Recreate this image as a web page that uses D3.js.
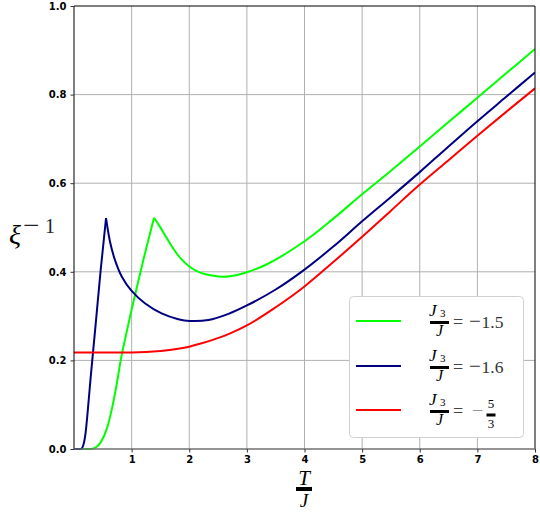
<!DOCTYPE html>
<html>
<head>
<meta charset="utf-8">
<script src="https://cdn.jsdelivr.net/npm/d3@7"></script>
<style>
  html, body { margin: 0; padding: 0; background: #fff; }
  svg { display: block; }
</style>
</head>
<body>
<svg id="chart" width="540" height="514"></svg>
<script>
// ---------------- data ----------------
const xTicks = [1, 2, 3, 4, 5, 6, 7, 8];
const yTicks = [0.0, 0.2, 0.4, 0.6, 0.8, 1.0];
const yTickLabels = ["0.0", "0.2", "0.4", "0.6", "0.8", "1.0"];

// J3/J = -1.5 (green): rising branch up to the cusp, then decaying/rising branch
const greenRiseT = [0, 0.2, 0.29, 0.37, 0.463, 0.58, 0.665, 0.75, 0.81, 0.9, 1.0, 1.1, 1.2, 1.3, 1.389];
const greenRiseY = [0, 0, 0, 0.003, 0.015, 0.05, 0.095, 0.153, 0.2, 0.256, 0.315, 0.37, 0.425, 0.477, 0.522];
const greenFallT = [1.389, 1.49, 1.61, 1.72, 1.84, 2.0, 2.19, 2.42, 2.6, 2.83, 3.0, 3.35, 4.0, 4.5, 5.0, 5.5, 6.0, 6.5, 7.0, 7.5, 8.0];
const greenFallY = [0.522, 0.502, 0.476, 0.453, 0.432, 0.412, 0.398, 0.391, 0.389, 0.393, 0.399, 0.417, 0.469, 0.52, 0.575, 0.628, 0.683, 0.738, 0.793, 0.848, 0.903];

// J3/J = -1.6 (navy)
const blueRiseT = [0, 0.08, 0.12, 0.16, 0.2, 0.24, 0.29, 0.33, 0.377, 0.463, 0.556];
const blueRiseY = [0, 0, 0, 0.008, 0.035, 0.088, 0.163, 0.218, 0.283, 0.404, 0.521];
const blueFallT = [0.556, 0.625, 0.71, 0.83, 1.0, 1.23, 1.52, 1.81, 2.01, 2.33, 2.68, 3.0, 3.5, 4.0, 4.5, 5.0, 5.5, 6.0, 6.5, 7.0, 7.5, 8.0];
const blueFallY = [0.521, 0.468, 0.427, 0.389, 0.357, 0.329, 0.306, 0.293, 0.289, 0.291, 0.305, 0.324, 0.36, 0.405, 0.457, 0.514, 0.569, 0.625, 0.683, 0.740, 0.795, 0.850];

// J3/J = -5/3 (red)
const redT = [0, 0.5, 1.0, 1.5, 1.75, 2.0, 2.2, 2.42, 2.71, 3.0, 3.5, 4.0, 4.5, 5.0, 5.5, 6.0, 6.5, 7.0, 7.5, 8.0];
const redY = [0.218, 0.218, 0.218, 0.221, 0.225, 0.231, 0.238, 0.247, 0.261, 0.279, 0.32, 0.367, 0.422, 0.479, 0.538, 0.597, 0.652, 0.707, 0.761, 0.814];

const seriesValues = ["1.5", "1.6", "5/3"];
const seriesColors = ["#00ff00", "#000080", "#ff0000"];

// --------------- chart ---------------
const svg = d3.select("#chart");
const x = d3.scaleLinear().domain([0, 8]).range([74, 535]);
const y = d3.scaleLinear().domain([0, 1]).range([449, 6]);

const zip = (T, Y) => T.map((t, j) => [t, Y[j]]);
const segments = [
  { color: seriesColors[0], pts: zip(greenRiseT, greenRiseY), curve: d3.curveMonotoneX },
  { color: seriesColors[0], pts: zip(greenFallT, greenFallY), curve: d3.curveCatmullRom.alpha(0.5) },
  { color: seriesColors[1], pts: zip(blueRiseT, blueRiseY), curve: d3.curveMonotoneX },
  { color: seriesColors[1], pts: zip(blueFallT, blueFallY), curve: d3.curveCatmullRom.alpha(0.5) },
  { color: seriesColors[2], pts: zip(redT, redY), curve: d3.curveMonotoneX }
];

// grid
const grid = svg.append("g");
grid.selectAll("line.vx").data(xTicks.filter(d => d < 8)).join("line")
  .attr("x1", d => x(d)).attr("x2", d => x(d))
  .attr("y1", y(0)).attr("y2", y(1))
  .attr("stroke", "#b0b0b0").attr("stroke-width", 1);
grid.selectAll("line.hy").data(yTicks.filter(d => d > 0 && d < 1)).join("line")
  .attr("x1", x(0)).attr("x2", x(8))
  .attr("y1", d => y(d)).attr("y2", d => y(d))
  .attr("stroke", "#b0b0b0").attr("stroke-width", 1);

// curves
svg.append("defs").append("clipPath").attr("id", "clip")
  .append("rect").attr("x", x(0)).attr("y", y(1)).attr("width", x(8) - x(0)).attr("height", y(0) - y(1) + 1);
svg.append("g").attr("clip-path", "url(#clip)")
  .selectAll("path").data(segments).join("path")
  .attr("d", d => d3.line().x(p => x(p[0])).y(p => y(p[1])).curve(d.curve)(d.pts))
  .attr("fill", "none")
  .attr("stroke", d => d.color)
  .attr("stroke-width", 2)
  .attr("stroke-linejoin", "miter")
  .attr("stroke-linecap", "butt");

// spines
svg.append("line").attr("x1", x(0)).attr("x2", x(0)).attr("y1", y(0)).attr("y2", y(1)).attr("stroke", "#000").attr("stroke-width", 1);
svg.append("line").attr("x1", x(8)).attr("x2", x(8)).attr("y1", y(0)).attr("y2", y(1)).attr("stroke", "#000").attr("stroke-width", 1);
svg.append("line").attr("x1", x(0)).attr("x2", x(8)).attr("y1", y(1)).attr("y2", y(1)).attr("stroke", "#000").attr("stroke-width", 1);
svg.append("line").attr("x1", x(0)).attr("x2", x(8)).attr("y1", y(0)).attr("y2", y(0)).attr("stroke", "#707070").attr("stroke-width", 1.5);

// axes
const xAxis = d3.axisBottom(x).tickValues(xTicks).tickSize(3.5).tickPadding(3).tickFormat(d3.format("d"));
const gx = svg.append("g").attr("transform", `translate(0,${y(0)})`).call(xAxis);
gx.select(".domain").remove();
gx.selectAll(".tick line").attr("stroke", "#333");
gx.selectAll("text").attr("font-family", "DejaVu Sans").attr("font-weight", "bold").attr("font-size", 10).attr("fill", "#000");

const yAxis = d3.axisLeft(y).tickValues(yTicks).tickSize(3.5).tickPadding(4).tickFormat((d, i) => yTickLabels[i]);
const gy = svg.append("g").attr("transform", `translate(${x(0)},0)`).call(yAxis);
gy.select(".domain").remove();
gy.selectAll(".tick line").attr("stroke", "#333");
gy.selectAll("text").attr("font-family", "DejaVu Sans").attr("font-weight", "bold").attr("font-size", 10).attr("fill", "#000");

// axis labels
const serif = "Liberation Serif";
const xl = svg.append("g");
xl.append("text").attr("x", 304).attr("y", 484.5).attr("text-anchor", "middle")
  .attr("font-family", serif).attr("font-style", "italic").attr("font-size", 21).text("T");
xl.append("rect").attr("x", 296).attr("y", 487).attr("width", 16).attr("height", 4).attr("fill", "#000");
xl.append("text").attr("x", 304).attr("y", 507).attr("text-anchor", "middle")
  .attr("font-family", serif).attr("font-style", "italic").attr("font-size", 19).text("J");

const yl = svg.append("g");
yl.append("text").attr("x", 9).attr("y", 244)
  .attr("font-family", serif).attr("font-style", "italic").attr("font-size", 28).text("ξ");
yl.append("text").attr("x", 23).attr("y", 235)
  .attr("font-family", serif).attr("font-size", 29).attr("fill", "#222").text("−");
yl.append("text").attr("x", 45).attr("y", 233)
  .attr("font-family", serif).attr("font-size", 20).attr("fill", "#222").text("1");

// legend
const lg = svg.append("g");
lg.append("rect").attr("x", 349.5).attr("y", 296.5).attr("width", 174).attr("height", 141)
  .attr("rx", 4).attr("fill", "#fff").attr("stroke", "#d0d0d0").attr("stroke-width", 1);

const rowY = [321, 366, 410];
seriesColors.forEach((color, i) => {
  const cy = rowY[i];
  const g = lg.append("g");
  g.append("line").attr("x1", 356).attr("x2", 401).attr("y1", cy).attr("y2", cy)
    .attr("stroke", color).attr("stroke-width", 2);
  // fraction J3 / J
  g.append("text").attr("x", 429).attr("y", cy - 5)
    .attr("font-family", serif).attr("font-style", "italic").attr("font-size", 17).text("J");
  g.append("text").attr("x", 440).attr("y", cy - 4)
    .attr("font-family", serif).attr("font-size", 11).text("3");
  g.append("rect").attr("x", 430).attr("y", cy).attr("width", 19).attr("height", 3).attr("fill", "#000");
  g.append("text").attr("x", 439.5).attr("y", cy + 15).attr("text-anchor", "middle")
    .attr("font-family", serif).attr("font-style", "italic").attr("font-size", 16).text("J");
  g.append("text").attr("x", 453).attr("y", cy + 6.5)
    .attr("font-family", serif).attr("font-size", 18).attr("fill", "#444").text("=");
  if (i < 2) {
    g.append("text").attr("x", 469).attr("y", cy + 6.5)
      .attr("font-family", serif).attr("font-size", 21).attr("fill", "#333").text("−");
    g.append("text").attr("x", 481.5).attr("y", cy + 6.5)
      .attr("font-family", serif).attr("font-size", 17.5).attr("fill", "#333").text(seriesValues[i]);
  } else {
    g.append("text").attr("x", 472).attr("y", cy + 6.5)
      .attr("font-family", serif).attr("font-size", 20).attr("fill", "#999").text("−");
    const parts = seriesValues[i].split("/");
    g.append("text").attr("x", 491).attr("y", cy - 2).attr("text-anchor", "middle")
      .attr("font-family", serif).attr("font-size", 13).text(parts[0]);
    g.append("rect").attr("x", 486.5).attr("y", cy + 3.5).attr("width", 9).attr("height", 3).attr("fill", "#000");
    g.append("text").attr("x", 491).attr("y", cy + 18).attr("text-anchor", "middle")
      .attr("font-family", serif).attr("font-size", 13).text(parts[1]);
  }
});
</script>
</body>
</html>
